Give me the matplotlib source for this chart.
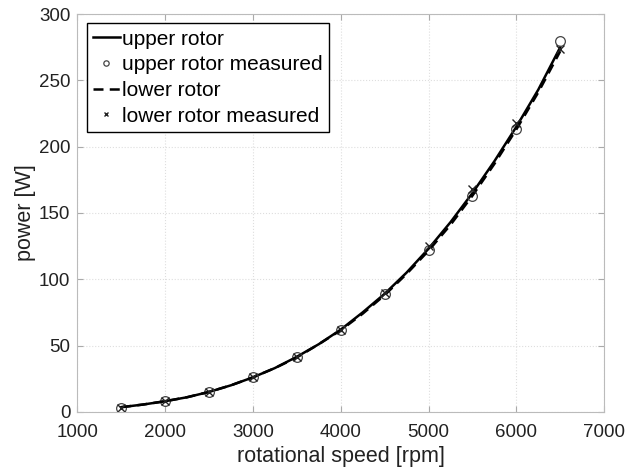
import matplotlib
matplotlib.use('Agg')
import matplotlib.pyplot as plt

# measured speeds [rpm] and power [W]
speed = [1500, 2000, 2500, 3000, 3500, 4000, 4500, 5000, 5500, 6000, 6500]
upper_meas = [3, 8, 15, 26, 41, 62, 89, 122, 163, 213, 280]
lower_meas = [3, 8, 15, 26, 41, 62, 90, 125, 168, 218, 274]

speed_fit = [1500, 1750, 2000, 2250, 2500, 2750, 3000, 3250, 3500, 3750, 4000,
             4250, 4500, 4750, 5000, 5250, 5500, 5750, 6000, 6250, 6500]
upper_fit = [3.5, 5.5, 8, 11, 15, 20, 26, 33, 41.5, 51, 62,
             75, 89, 105, 123, 143, 165, 189, 215, 243, 275]
lower_fit = [3.5, 5.5, 8, 11, 15, 20, 26, 33, 41, 51, 61.5,
             74, 88, 104, 121.5, 141, 163, 187, 213, 241, 272]

plt.rcParams['font.family'] = ['Liberation Sans', 'DejaVu Sans']

fig = plt.figure(figsize=(6.38, 4.68), dpi=100)
ax = fig.add_axes([0.121, 0.12, 0.826, 0.85])

ax.plot(speed_fit, upper_fit, color='black', lw=1.8, label='upper rotor')
ax.plot(speed, upper_meas, ls='none', marker='o', ms=7, mfc='none', mec='#444444',
        mew=0.9, label='upper rotor measured')
ax.plot(speed_fit, lower_fit, color='black', lw=1.8, ls=(0, (4, 2.5)), label='lower rotor')
ax.plot(speed, lower_meas, ls='none', marker='x', ms=5.5, mec='#222222', mew=1.0,
        label='lower rotor measured')

ax.set_xlim(1000, 7000)
ax.set_ylim(0, 300)
ax.set_xticks(range(1000, 7001, 1000))
ax.set_yticks(range(0, 301, 50))
ax.grid(True, color='#dedede', lw=0.8, ls=':')
ax.set_axisbelow(True)
ax.tick_params(direction='in', top=True, right=True, length=4, color='#aaaaaa',
               labelsize=13.5, labelcolor='#222222')
ax.tick_params(axis='x', pad=9)
ax.tick_params(axis='y', pad=5)
for s in ax.spines.values():
    s.set_color('#bbbbbb')
    s.set_linewidth(0.8)

ax.set_xlabel('rotational speed [rpm]', fontsize=15.5, color='#222222', labelpad=3)
ax.set_ylabel('power [W]', fontsize=15.5, color='#222222', labelpad=2)

leg = ax.legend(loc='upper left', fontsize=15, handlelength=1.3, handletextpad=0.1,
                borderpad=0.3, labelspacing=0.32, fancybox=False, framealpha=1,
                borderaxespad=0.45, markerscale=0.55)
leg.get_frame().set_edgecolor('black')
leg.get_frame().set_linewidth(1.0)

fig.savefig('out.png', dpi=100, facecolor='white')
